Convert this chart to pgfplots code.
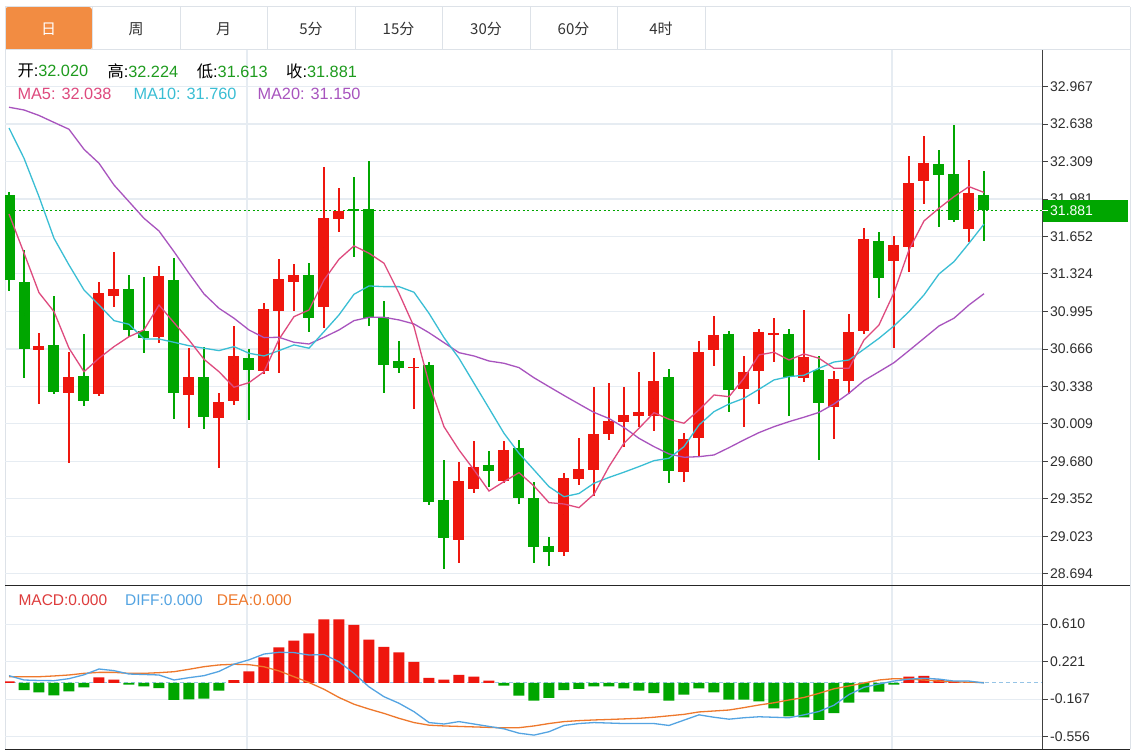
\documentclass[border=0pt]{standalone}
\usepackage{fontspec}
\setmainfont{Liberation Sans}
\newfontfamily\cjk{Noto Sans CJK SC}
\usepackage{pgfplots}
\usepackage{pgfplotstable}
\pgfplotsset{compat=1.18}

\definecolor{cred}{RGB}{238,22,14}
\definecolor{cgreen}{RGB}{0,166,0}
\definecolor{ma5c}{RGB}{222,74,126}
\definecolor{ma10c}{RGB}{58,190,212}
\definecolor{ma20c}{RGB}{168,84,190}
\definecolor{diffc}{RGB}{84,164,226}
\definecolor{deac}{RGB}{238,120,44}
\definecolor{macdc}{RGB}{222,60,60}
\definecolor{hgreen}{RGB}{30,155,30}
\definecolor{tabor}{RGB}{242,140,66}
\definecolor{gridc}{RGB}{230,236,242}
\definecolor{framec}{RGB}{221,226,232}
\definecolor{zeroc}{RGB}{150,196,230}

% up days (close > open), red
\pgfplotstableread{
i  o      h      l      c
2  30.657 30.803 30.180 30.694
4  30.277 30.636 29.663 30.422
6  30.268 31.250 30.256 31.154
7  31.133 31.519 31.031 31.191
10 30.773 31.393 30.721 31.305
12 30.262 30.677 29.970 30.422
14 30.063 30.277 29.625 30.203
15 30.212 30.870 30.174 30.607
17 30.475 31.071 30.446 31.013
18 31.001 31.454 30.452 31.277
19 31.255 31.408 31.001 31.314
21 31.036 32.264 30.852 31.811
22 31.803 32.074 31.694 31.878
27 30.501 30.586 30.137 30.510
30 28.991 29.677 28.792 29.508
31 29.438 29.861 29.405 29.633
33 29.511 29.861 29.488 29.780
37 28.888 29.581 28.850 29.537
38 29.523 29.882 29.476 29.611
39 29.604 30.330 29.378 29.920
40 29.920 30.370 29.867 30.037
41 30.023 30.330 29.802 30.087
42 30.074 30.464 29.984 30.109
43 30.081 30.642 29.946 30.387
45 29.590 29.926 29.502 29.876
46 29.888 30.736 29.727 30.642
47 30.657 30.957 30.516 30.788
49 30.312 30.604 29.979 30.466
50 30.475 30.841 30.180 30.817
51 30.791 30.935 30.554 30.803
53 30.415 31.007 30.379 30.598
55 30.159 30.470 29.874 30.400
56 30.387 30.970 30.271 30.817
57 30.826 31.724 30.797 31.627
59 31.440 31.656 30.672 31.577
60 31.562 32.360 31.343 32.118
61 32.138 32.533 31.937 32.299
64 31.718 32.323 31.601 32.031
}\upcandles

% down days, green
\pgfplotstableread{
i  o      h      l      c
0  32.016 32.045 31.177 31.270
1  31.255 31.533 30.414 30.663
3  30.700 31.130 30.271 30.286
5  30.429 30.794 30.166 30.209
8  31.191 31.314 30.768 30.832
9  30.823 31.294 30.628 30.764
11 31.270 31.461 30.049 30.282
13 30.422 30.686 29.961 30.072
16 30.584 30.663 30.043 30.481
20 31.314 31.417 30.817 30.940
23 31.893 32.176 31.475 31.875
24 31.893 32.314 30.870 30.940
25 30.949 31.086 30.277 30.525
26 30.560 30.738 30.452 30.501
28 30.525 30.554 29.298 29.327
29 29.341 29.692 28.734 29.011
32 29.648 29.771 29.458 29.596
34 29.795 29.867 29.306 29.356
35 29.356 29.502 28.786 28.927
36 28.938 29.014 28.763 28.883
44 30.417 30.490 29.493 29.596
48 30.794 30.823 30.116 30.306
52 30.797 30.841 30.081 30.422
54 30.481 30.604 29.688 30.195
58 31.612 31.694 31.115 31.285
62 32.285 32.410 31.738 32.191
63 32.197 32.629 31.782 31.796
65 32.020 32.224 31.613 31.881
}\downcandles

\pgfplotstableread{
i  ma5    ma10   ma20
0  31.849 32.603 32.785
1  31.507 32.338 32.761
2  31.159 32.001 32.713
3  30.993 31.636 32.652
4  30.672 31.402 32.592
5  30.466 31.183 32.416
6  30.584 31.051 32.294
7  30.686 30.914 32.103
8  30.773 30.882 31.957
9  30.832 30.753 31.811
10 31.051 30.753 31.700
11 30.896 30.724 31.519
12 30.744 30.694 31.329
13 30.575 30.672 31.148
14 30.466 30.651 31.022
15 30.330 30.686 30.935
16 30.370 30.628 30.832
17 30.466 30.604 30.765
18 30.750 30.651 30.768
19 30.949 30.701 30.724
20 31.007 30.672 30.709
21 31.270 30.817 30.768
22 31.452 30.964 30.832
23 31.569 31.145 30.914
24 31.505 31.218 30.943
25 31.417 31.212 30.943
26 31.154 31.212 30.920
27 30.861 31.163 30.885
28 30.365 30.978 30.808
29 29.984 30.765 30.721
30 29.780 30.584 30.633
31 29.605 30.365 30.604
32 29.420 30.146 30.560
33 29.502 29.926 30.540
34 29.581 29.751 30.502
35 29.464 29.605 30.413
36 29.318 29.458 30.335
37 29.306 29.370 30.258
38 29.274 29.398 30.183
39 29.392 29.488 30.109
40 29.634 29.539 30.056
41 29.839 29.585 29.977
42 29.970 29.634 29.882
43 30.107 29.686 29.809
44 30.049 29.707 29.745
45 30.014 29.809 29.716
46 30.131 29.999 29.721
47 30.262 30.116 29.736
48 30.247 30.183 29.800
49 30.409 30.233 29.868
50 30.613 30.312 29.932
51 30.637 30.394 29.984
52 30.569 30.423 30.028
53 30.622 30.435 30.067
54 30.584 30.496 30.109
55 30.496 30.551 30.183
56 30.496 30.569 30.277
57 30.744 30.663 30.388
58 30.876 30.759 30.466
59 31.159 30.867 30.545
60 31.534 30.993 30.651
61 31.788 31.139 30.759
62 31.899 31.323 30.867
63 32.001 31.431 30.935
64 32.089 31.592 31.051
65 32.038 31.760 31.150
}\matab

\pgfplotstableread{
i  diff   dea
0  0.076  0.065
1  0.031  0.065
2  0.026  0.065
3  0.024  0.073
4  0.045  0.083
5  0.085  0.100
6  0.145  0.110
7  0.128  0.110
8  0.093  0.100
9  0.088  0.100
10 0.083  0.107
11 0.031  0.117
12 0.055  0.142
13 0.076  0.169
14 0.120  0.187
15 0.195  0.194
16 0.240  0.190
17 0.300  0.168
18 0.318  0.125
19 0.315  0.065
20 0.290  0.005
21 0.295  -0.065
22 0.220  -0.150
23 0.100  -0.220
24 -0.040 -0.270
25 -0.142 -0.315
26 -0.210 -0.366
27 -0.297 -0.410
28 -0.410 -0.437
29 -0.425 -0.445
30 -0.400 -0.450
31 -0.425 -0.455
32 -0.450 -0.460
33 -0.475 -0.465
34 -0.520 -0.463
35 -0.540 -0.445
36 -0.505 -0.420
37 -0.440 -0.400
38 -0.420 -0.390
39 -0.410 -0.383
40 -0.415 -0.378
41 -0.420 -0.372
42 -0.420 -0.366
43 -0.420 -0.355
44 -0.440 -0.340
45 -0.385 -0.325
46 -0.330 -0.300
47 -0.355 -0.290
48 -0.375 -0.280
49 -0.360 -0.255
50 -0.350 -0.228
51 -0.355 -0.205
52 -0.360 -0.176
53 -0.330 -0.150
54 -0.295 -0.107
55 -0.230 -0.060
56 -0.120 -0.031
57 -0.045 0.000
58 -0.010 0.031
59 0.020  0.045
60 0.040  0.040
61 0.050  0.031
62 0.040  0.020
63 0.020  0.013
64 0.020  0.008
65 0.000  0.005
}\macdtab

\pgfplotsset{
  panel/.style={
    scale only axis, width=1037pt,
    xmin=-0.26667, xmax=68.8667,
    axis line style={draw=none},
    xtick={15.867,58.867}, xticklabels={}, xtick style={draw=none},
    xmajorgrids, ymajorgrids, grid style={gridc, line width=1.2pt},
    ytick pos=right, yticklabel pos=right,
    tick align=outside, major tick length=6pt,
    ytick style={black!75, line width=0.8pt},
    yticklabel style={font=\fontsize{14}{16}\selectfont, text=black!82, inner xsep=2pt},
  },
  wick/.style={only marks, mark=*, mark size=0pt, mark options={draw=none, fill=none},
    error bars/.cd, y dir=both, y explicit, error mark=none,
    error bar style={draw=#1, line width=1.5pt}},
  body/.style={only marks, mark=*, mark size=0pt, mark options={draw=none, fill=none},
    error bars/.cd, y dir=both, y explicit, error mark=none,
    error bar style={draw=#1, line width=11pt}},
}

\begin{document}
\begin{tikzpicture}
\path[use as bounding box, fill=white] (0pt,0pt) rectangle (1137pt,752pt);

% tab bar
\fill[tabor, rounded corners=3pt] (5pt,702pt) rectangle (92pt,745pt);
\draw[framec, line width=1pt] (5pt,745pt) -- (1130pt,745pt);
\draw[framec, line width=1pt] (5pt,702pt) -- (1130pt,702pt);
\foreach \x in {92,180,267,355,442,530,617,705}
  \draw[framec, line width=1pt] (\x pt,702pt) -- (\x pt,745pt);
\draw[framec, line width=1pt] (5pt,745pt) -- (5pt,2.7pt);
\draw[framec, line width=1pt] (1130pt,745pt) -- (1130pt,2.7pt);
\begin{scope}[every node/.style={font=\cjk\fontsize{15}{17}\selectfont, text=black!80}]
\node[text=white] at (48.5pt,723pt) {日};
\node at (136pt,723pt) {周};
\node at (223.5pt,723pt) {月};
\node at (311pt,723pt) {5分};
\node at (398.5pt,723pt) {15分};
\node at (486pt,723pt) {30分};
\node at (573.5pt,723pt) {60分};
\node at (661pt,723pt) {4时};
\end{scope}

% price panel
\begin{axis}[panel, at={(5pt,166pt)}, anchor=south west, height=536pt,
  ymin=28.587, ymax=33.287,
  ytick={28.694,29.023,29.352,29.680,30.009,30.338,30.666,30.995,31.324,31.652,31.981,32.309,32.638,32.967},
  yticklabels={28.694,29.023,29.352,29.680,30.009,30.338,30.666,30.995,31.324,31.652,31.981,32.309,32.638,32.967},
]
\addplot[color=cgreen, line width=1.3pt, dash pattern=on 2pt off 2.5pt]
  coordinates {(-0.26667,31.881) (68.8667,31.881)};
\addplot[wick=cred] table[x=i, y expr={(\thisrow{h}+\thisrow{l})/2},
  y error expr={(\thisrow{h}-\thisrow{l})/2}] {\upcandles};
\addplot[body=cred] table[x=i, y expr={(\thisrow{o}+\thisrow{c})/2},
  y error expr={max(abs(\thisrow{c}-\thisrow{o})/2,0.005)}] {\upcandles};
\addplot[wick=cgreen] table[x=i, y expr={(\thisrow{h}+\thisrow{l})/2},
  y error expr={(\thisrow{h}-\thisrow{l})/2}] {\downcandles};
\addplot[body=cgreen] table[x=i, y expr={(\thisrow{o}+\thisrow{c})/2},
  y error expr={max(abs(\thisrow{c}-\thisrow{o})/2,0.005)}] {\downcandles};
\addplot[ma20c, line width=1.3pt] table[x=i, y=ma20] {\matab};
\addplot[ma10c, line width=1.3pt] table[x=i, y=ma10] {\matab};
\addplot[ma5c, line width=1.3pt] table[x=i, y=ma5] {\matab};
\end{axis}

% MACD panel
\begin{axis}[panel, at={(5pt,2.7pt)}, anchor=south west, height=163.3pt,
  ymin=-0.687, ymax=1.005,
  ytick={-0.556,-0.167,0.221,0.610},
  yticklabels={-0.556,-0.167,0.221,0.610},
]
\addplot[zeroc, line width=1pt, dash pattern=on 4pt off 3pt]
  coordinates {(-0.26667,0) (68.8667,0)};
\addplot[ybar, bar width=11pt, bar shift=0pt, fill=cred, draw=none] coordinates {
(0,0.017) (6,0.059) (7,0.035) (15,0.031) (16,0.121) (17,0.266) (18,0.370)
(19,0.439) (20,0.515) (21,0.660) (22,0.660) (23,0.601) (24,0.449) (25,0.373)
(26,0.318) (27,0.218) (28,0.052) (29,0.035) (30,0.083) (31,0.066) (32,0.024)
(60,0.066) (61,0.073) (62,0.035) (63,0.014) (64,0.010)};
\addplot[ybar, bar width=11pt, bar shift=0pt, fill=cgreen, draw=none] coordinates {
(1,-0.073) (2,-0.097) (3,-0.128) (4,-0.086) (5,-0.045) (8,-0.017) (9,-0.035)
(10,-0.052) (11,-0.176) (12,-0.169) (13,-0.162) (14,-0.079) (33,-0.028)
(34,-0.131) (35,-0.183) (36,-0.155) (37,-0.073) (38,-0.062) (39,-0.035)
(40,-0.035) (41,-0.055) (42,-0.079) (43,-0.104) (44,-0.183) (45,-0.121)
(46,-0.055) (47,-0.097) (48,-0.173) (49,-0.173) (50,-0.190) (51,-0.263)
(52,-0.345) (53,-0.356) (54,-0.383) (55,-0.311) (56,-0.204) (57,-0.097)
(58,-0.090) (59,-0.017)};
\addplot[deac, line width=1.3pt] table[x=i, y=dea] {\macdtab};
\addplot[diffc, line width=1.3pt] table[x=i, y=diff] {\macdtab};
\end{axis}

% frame lines
\draw[black!85, line width=1pt] (5pt,166pt) -- (1130pt,166pt);
\draw[black!85, line width=1pt] (5pt,2.7pt) -- (1130pt,2.7pt);
\draw[black!75, line width=1pt] (1042pt,702pt) -- (1042pt,2.7pt);

% last price marker
\fill[cgreen] (1043pt,530pt) rectangle (1128pt,552pt);
\draw[white, line width=0.8pt] (1042pt,541.6pt) -- (1048pt,541.6pt);
\node[anchor=west, inner sep=0pt, text=white, font=\fontsize{14}{16}\selectfont] at (1050pt,541.6pt) {31.881};

% headers
\begin{scope}[every node/.style={anchor=west, inner sep=0pt, font=\fontsize{16.3}{18}\selectfont}]
\node at (17.3pt,681pt) {{\cjk 开}:\textcolor{hgreen}{32.020}};
\node at (107.3pt,681pt) {{\cjk 高}:\textcolor{hgreen}{32.224}};
\node at (196.7pt,681pt) {{\cjk 低}:\textcolor{hgreen}{31.613}};
\node at (286pt,681pt) {{\cjk 收}:\textcolor{hgreen}{31.881}};
\node[text=ma5c, fill=white, inner ysep=1pt] at (17.3pt,658pt) {MA5: 32.038};
\node[text=ma10c, fill=white, inner ysep=1pt] at (133.3pt,658pt) {MA10: 31.760};
\node[text=ma20c, fill=white, inner ysep=1pt] at (257.3pt,658pt) {MA20: 31.150};
\end{scope}
\begin{scope}[every node/.style={anchor=west, inner sep=0pt, font=\fontsize{15.5}{17}\selectfont}]
\node[text=macdc] at (18.3pt,152pt) {MACD:0.000};
\node[text=diffc] at (125pt,152pt) {DIFF:0.000};
\node[text=deac] at (216.7pt,152pt) {DEA:0.000};
\end{scope}
\end{tikzpicture}
\end{document}
